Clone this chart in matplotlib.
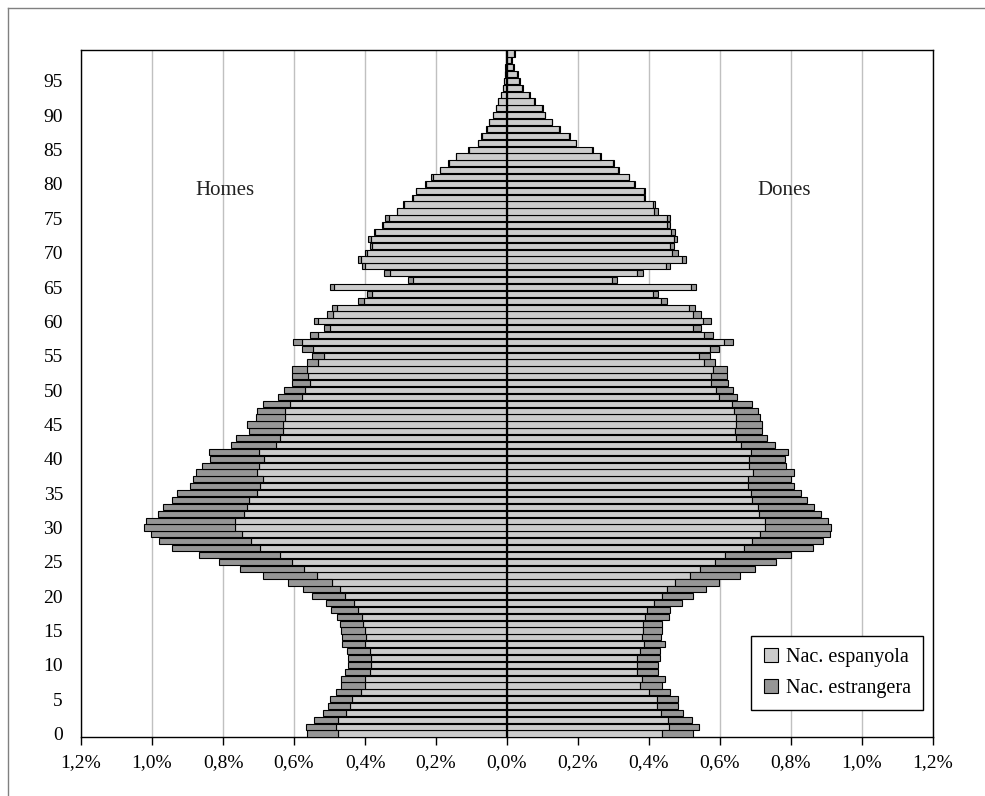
import numpy as np
import matplotlib
matplotlib.use("Agg")
import matplotlib.pyplot as plt
from matplotlib.lines import Line2D

plt.rcParams['font.family'] = ['Liberation Serif', 'DejaVu Serif']

ages = np.arange(0, 100)

# % of population, age 0..99
men_esp = [0.475, 0.482, 0.477, 0.453, 0.441, 0.436, 0.411, 0.401, 0.401, 0.387,
           0.384, 0.384, 0.387, 0.401, 0.398, 0.401, 0.405, 0.408, 0.420, 0.431,
           0.455, 0.470, 0.492, 0.534, 0.571, 0.605, 0.640, 0.697, 0.721, 0.747,
           0.767, 0.765, 0.741, 0.732, 0.728, 0.705, 0.695, 0.687, 0.705, 0.698,
           0.685, 0.698, 0.650, 0.639, 0.632, 0.631, 0.626, 0.626, 0.612, 0.578,
           0.568, 0.556, 0.560, 0.563, 0.531, 0.515, 0.546, 0.578, 0.532, 0.498,
           0.531, 0.490, 0.479, 0.404, 0.380, 0.487, 0.265, 0.330, 0.401, 0.410,
           0.393, 0.379, 0.384, 0.372, 0.350, 0.333, 0.309, 0.291, 0.266, 0.255,
           0.229, 0.209, 0.188, 0.164, 0.143, 0.107, 0.082, 0.071, 0.057, 0.050,
           0.039, 0.031, 0.024, 0.017, 0.010, 0.008, 0.006, 0.004, 0.002, 0.002]
men_ext = [0.087, 0.084, 0.067, 0.065, 0.062, 0.064, 0.071, 0.067, 0.067, 0.069,
           0.065, 0.065, 0.065, 0.063, 0.066, 0.067, 0.066, 0.070, 0.077, 0.080,
           0.093, 0.104, 0.124, 0.152, 0.181, 0.207, 0.229, 0.246, 0.259, 0.257,
           0.256, 0.253, 0.241, 0.238, 0.215, 0.224, 0.199, 0.197, 0.171, 0.161,
           0.152, 0.142, 0.128, 0.123, 0.096, 0.100, 0.081, 0.079, 0.075, 0.068,
           0.061, 0.051, 0.047, 0.044, 0.032, 0.033, 0.032, 0.025, 0.023, 0.017,
           0.014, 0.018, 0.015, 0.017, 0.015, 0.011, 0.013, 0.016, 0.007, 0.011,
           0.008, 0.007, 0.007, 0.003, 0.001, 0.012, 0.002, 0.002, 0.003, 0.002,
           0.002, 0.004, 0.002, 0.002, 0.002, 0.002, 0.001, 0.001, 0.001, 0.001,
           0.001, 0.001, 0.001, 0.001, 0.001, 0.001, 0.001, 0.001, 0.001, 0.001]
women_esp = [0.437, 0.456, 0.453, 0.433, 0.423, 0.423, 0.401, 0.375, 0.379, 0.366,
             0.366, 0.366, 0.375, 0.386, 0.379, 0.383, 0.383, 0.390, 0.394, 0.413,
             0.437, 0.452, 0.474, 0.515, 0.544, 0.585, 0.615, 0.667, 0.691, 0.714,
             0.728, 0.728, 0.711, 0.707, 0.690, 0.688, 0.678, 0.679, 0.692, 0.681,
             0.681, 0.688, 0.658, 0.645, 0.642, 0.644, 0.644, 0.640, 0.633, 0.597,
             0.590, 0.576, 0.576, 0.580, 0.554, 0.540, 0.572, 0.611, 0.554, 0.524,
             0.552, 0.524, 0.514, 0.434, 0.412, 0.517, 0.296, 0.365, 0.448, 0.492,
             0.465, 0.460, 0.470, 0.463, 0.451, 0.451, 0.414, 0.411, 0.387, 0.387,
             0.358, 0.343, 0.314, 0.298, 0.263, 0.240, 0.193, 0.176, 0.146, 0.126,
             0.106, 0.098, 0.076, 0.062, 0.043, 0.035, 0.028, 0.017, 0.012, 0.020]
women_ext = [0.086, 0.084, 0.067, 0.064, 0.059, 0.059, 0.059, 0.063, 0.066, 0.060,
             0.060, 0.064, 0.055, 0.059, 0.055, 0.055, 0.055, 0.066, 0.066, 0.079,
             0.087, 0.108, 0.124, 0.141, 0.156, 0.173, 0.185, 0.194, 0.200, 0.195,
             0.184, 0.177, 0.173, 0.157, 0.154, 0.141, 0.130, 0.122, 0.117, 0.105,
             0.102, 0.104, 0.096, 0.086, 0.075, 0.074, 0.070, 0.066, 0.056, 0.051,
             0.047, 0.046, 0.043, 0.039, 0.031, 0.031, 0.025, 0.027, 0.026, 0.022,
             0.023, 0.022, 0.015, 0.018, 0.014, 0.016, 0.015, 0.019, 0.012, 0.012,
             0.018, 0.010, 0.010, 0.010, 0.008, 0.008, 0.012, 0.006, 0.002, 0.002,
             0.002, 0.002, 0.002, 0.002, 0.002, 0.002, 0.002, 0.002, 0.002, 0.002,
             0.002, 0.002, 0.002, 0.002, 0.002, 0.002, 0.002, 0.002, 0.002, 0.002]

xticks = [-1.2, -1.0, -0.8, -0.6, -0.4, -0.2, 0.0, 0.2, 0.4, 0.6, 0.8, 1.0, 1.2]
xlabels = ['1,2%', '1,0%', '0,8%', '0,6%', '0,4%', '0,2%', '0,0%',
           '0,2%', '0,4%', '0,6%', '0,8%', '1,0%', '1,2%']

light = '#cccccc'
dark = '#969696'

fig = plt.figure(figsize=(9.85, 7.96), dpi=100)
ax = fig.add_axes([81 / 985, 1 - 737 / 796, (933 - 81) / 985, (737 - 50) / 796])

men_esp = np.array(men_esp)
men_ext = np.array(men_ext)
women_esp = np.array(women_esp)
women_ext = np.array(women_ext)

h = 0.9
ax.barh(ages, -men_esp, height=h, color=light, edgecolor='black', linewidth=0.8,
        label='Nac. espanyola', zorder=3)
ax.barh(ages, -men_ext, left=-men_esp, height=h, color=dark, edgecolor='black',
        linewidth=0.8, label='Nac. estrangera', zorder=3)
ax.barh(ages, women_esp, height=h, color=light, edgecolor='black', linewidth=0.8, zorder=3)
ax.barh(ages, women_ext, left=women_esp, height=h, color=dark, edgecolor='black',
        linewidth=0.8, zorder=3)

ax.axvline(0, color='black', lw=1.6, zorder=4)

ax.set_xlim(-1.2, 1.2)
ax.set_ylim(-0.5, 99.5)
ax.set_xticks(xticks)
ax.set_xticklabels(xlabels, fontsize=14)
ax.set_yticks(np.arange(0, 100, 5))
ax.set_yticklabels([str(a) for a in range(0, 100, 5)], fontsize=14)
ax.tick_params(axis='x', direction='out', length=6, width=1, pad=6)
ax.tick_params(axis='y', length=0, pad=13)
ax.grid(axis='x', color='#c0c0c0', lw=1, zorder=0)
for s in ax.spines.values():
    s.set_color('black')
    s.set_linewidth(1)

ax.text(-0.795, 79, 'Homes', fontsize=15, ha='center', va='center', color='#222222')
ax.text(0.781, 79, 'Dones', fontsize=15, ha='center', va='center', color='#222222')

leg = ax.legend(loc='lower right', bbox_to_anchor=(0.988, 0.039), borderaxespad=0,
                fontsize=14.5, frameon=True, fancybox=False, framealpha=1,
                edgecolor='black', handlelength=0.7, handleheight=0.7,
                handletextpad=0.4, borderpad=0.6, labelspacing=0.6)
leg.get_frame().set_linewidth(1)

# outer chart border
fig.add_artist(Line2D([8 / 985, 8 / 985], [0, 1 - 8 / 796], color='#808080', lw=1))
fig.add_artist(Line2D([8 / 985, 1], [1 - 8 / 796, 1 - 8 / 796], color='#808080', lw=1))

plt.savefig('out.png', dpi=100)
